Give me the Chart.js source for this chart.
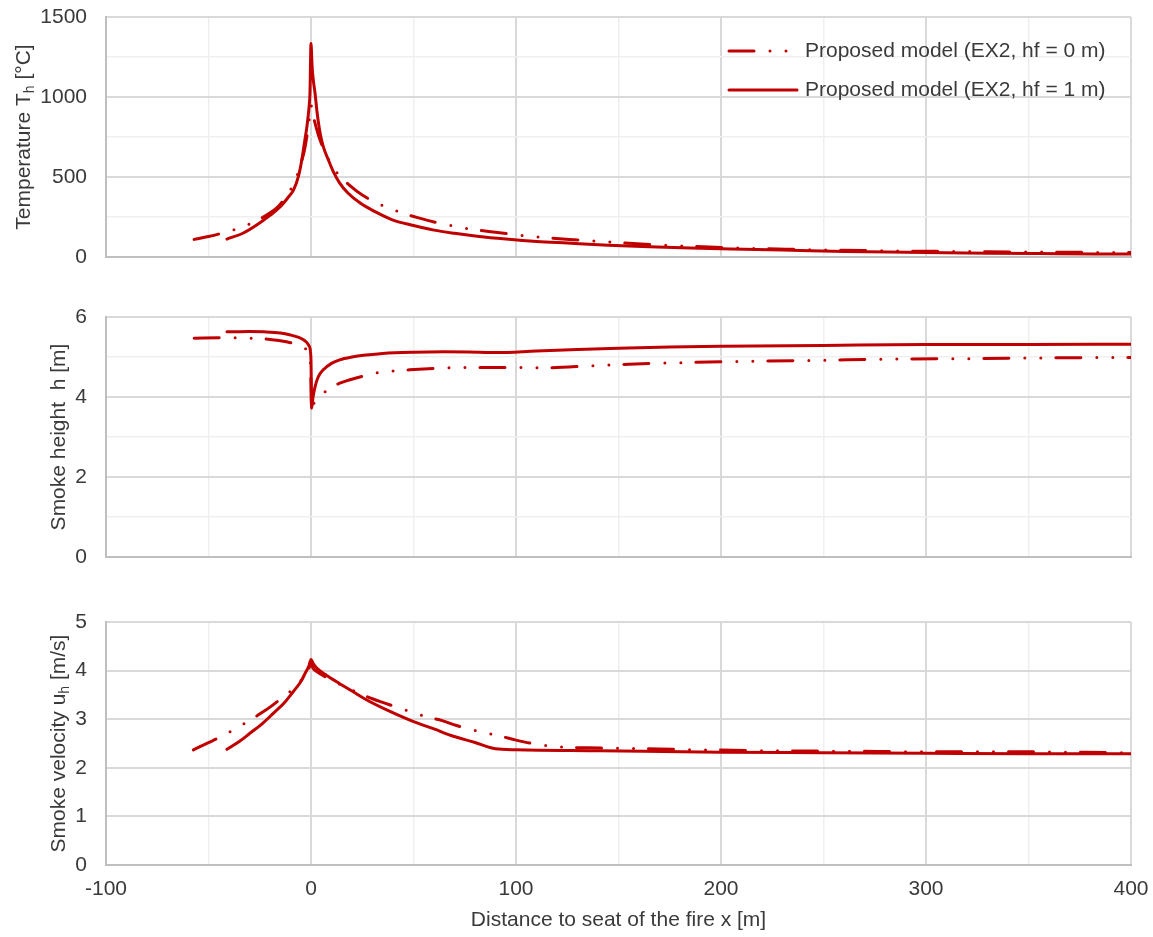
<!DOCTYPE html>
<html>
<head>
<meta charset="utf-8">
<script src="https://cdn.jsdelivr.net/npm/chart.js@4.4.1/dist/chart.umd.min.js"></script>
<style>
body { margin: 0; background: #fff; width: 1153px; height: 937px; position: relative; overflow: hidden; }
canvas { position: absolute; left: 0; }
#tempChart { top: 0; }
#heightChart { top: 280px; }
#velChart { top: 580px; }
</style>
</head>
<body>
<canvas id="tempChart" width="1153" height="280"></canvas>
<canvas id="heightChart" width="1153" height="300"></canvas>
<canvas id="velChart" width="1153" height="357"></canvas>
<script>
// data
const seriesLabels = ['Proposed model (EX2, hf = 0 m)', 'Proposed model (EX2, hf = 1 m)'];

const tempHf0X = [-57, -50, -43.6, -36, -28.5, -21.6, -16, -12, -8, -5, -3, -1.5, -0.5, 0, 0.5, 1.5, 3.6, 6, 9, 13.3, 19, 25, 31, 37, 45, 52, 60, 73, 81, 89, 103, 115, 126, 140, 163, 177, 200, 214, 235, 252, 270, 290, 310, 330, 365, 400];
const tempHf0 = [110, 128, 148, 177, 215, 262, 315, 381, 470, 580, 680, 800, 900, 950, 920, 860, 762, 680, 600, 517, 446, 387, 345, 310, 273, 246, 219, 185, 169, 156, 135, 121, 110, 98, 79, 71, 60, 54, 48, 44, 40, 37, 35, 33, 30, 28];
const tempHf1X = [-41, -33, -26.5, -20, -15, -11, -8.5, -6, -4.5, -3, -2, -1, -0.5, 0, 0.5, 1, 2, 3, 4.5, 6, 8.5, 11, 14, 18, 24, 31, 40, 50, 60, 70, 82, 95, 110, 125, 145, 165, 185, 205, 230, 260, 290, 330, 365, 400];
const tempHf1 = [112, 150, 200, 260, 314, 375, 419, 510, 606, 730, 814, 930, 1025, 1335, 1200, 1120, 1020, 900, 770, 690, 606, 530, 462, 400, 337, 285, 231, 197, 168, 148, 128, 112, 97, 87, 74, 64, 56, 50, 43, 35, 30, 24, 21, 18];

const heightHf0X = [-57, -43, -30, -20, -12, -6, -3, -1, -0.2, 0.3, 1.5, 3, 5.7, 8, 12, 19, 26, 33, 40, 48, 63, 78, 95, 114, 137, 155, 174, 212, 249, 287, 325, 362, 400];
const heightHf0 = [5.47, 5.48, 5.47, 5.44, 5.38, 5.3, 5.22, 5.1, 4.8, 3.65, 3.85, 3.95, 4.07, 4.18, 4.3, 4.43, 4.53, 4.61, 4.65, 4.68, 4.72, 4.74, 4.74, 4.73, 4.78, 4.82, 4.85, 4.89, 4.92, 4.95, 4.96, 4.98, 4.99];
const heightHf1X = [-41, -30, -23, -15, -10, -6, -3.7, -2, -1, -0.5, -0.2, 0, 0.3, 1, 2, 3.5, 6, 10, 14, 20, 27, 35, 50, 65, 82, 90, 110, 130, 150, 175, 200, 250, 300, 350, 400];
const heightHf1 = [5.63, 5.64, 5.63, 5.6, 5.55, 5.49, 5.43, 5.36, 5.28, 5.22, 5.1, 4.9, 3.72, 4.0, 4.26, 4.5, 4.68, 4.84, 4.93, 5.0, 5.05, 5.09, 5.12, 5.13, 5.12, 5.11, 5.15, 5.19, 5.22, 5.25, 5.27, 5.29, 5.31, 5.31, 5.32];

const velHf0X = [-57.4, -50, -44.4, -38, -31, -24.5, -19, -13.5, -7.5, -4, -1.3, 0, 1, 2.8, 8, 14, 21.5, 28.8, 36, 49, 56.4, 64, 71, 85, 92.5, 100, 108, 121.5, 135, 151.5, 190, 227, 264, 301, 338, 375, 400];
const velHf0 = [2.37, 2.52, 2.63, 2.78, 2.95, 3.12, 3.28, 3.46, 3.67, 3.85, 4.01, 4.15, 4.05, 3.98, 3.85, 3.72, 3.57, 3.44, 3.33, 3.15, 3.05, 2.97, 2.87, 2.72, 2.65, 2.57, 2.5, 2.43, 2.41, 2.4, 2.37, 2.35, 2.34, 2.33, 2.33, 2.32, 2.31];
const velHf1X = [-41, -35, -29.8, -24, -18.4, -13, -8.6, -5, -2.9, -1, 0, 1, 2.8, 7, 12.5, 20, 27, 38, 50, 60, 68, 80, 90, 100, 141, 200, 250, 300, 350, 400];
const velHf1 = [2.38, 2.54, 2.71, 2.9, 3.12, 3.34, 3.57, 3.77, 3.94, 4.1, 4.23, 4.15, 4.05, 3.92, 3.77, 3.58, 3.4, 3.17, 2.95, 2.8, 2.67, 2.52, 2.39, 2.37, 2.35, 2.32, 2.31, 2.3, 2.29, 2.29];

const RED = '#C00000';
const FONT = "'Liberation Sans', Arial, sans-serif";
const TEXT = '#3a3a3a';
const FS = 21;
const DASH_DOT = [25, 16, 0, 16, 0, 15];

function pts(xs, ys) {
    return xs.map((x, i) => ({ x: x, y: ys[i] }));
}

function series(label, xs, ys, dashed) {
    return {
        label: label,
        data: pts(xs, ys),
        borderColor: RED,
        backgroundColor: RED,
        borderWidth: 3,
        borderDash: dashed ? DASH_DOT : [],
        borderCapStyle: 'round',
        borderJoinStyle: 'round',
        pointRadius: 0,
        cubicInterpolationMode: 'monotone',
        order: dashed ? 1 : 0
    };
}

// rotated y title, with subscript pieces
const axisTitle = {
    id: 'axisTitle',
    afterDraw(chart, args, opts) {
        if (!opts || !opts.parts) return;
        const { ctx, chartArea } = chart;
        const cy = (chartArea.top + chartArea.bottom) / 2;
        const big = `${FS}px ${FONT}`, small = `14px ${FONT}`;
        ctx.save();
        ctx.translate(opts.x, cy);
        ctx.rotate(-Math.PI / 2);
        ctx.fillStyle = TEXT;
        ctx.textBaseline = 'alphabetic';
        ctx.textAlign = 'left';
        let total = 0;
        opts.parts.forEach(p => { ctx.font = p.sub ? small : big; total += ctx.measureText(p.text).width; });
        let x = -total / 2;
        opts.parts.forEach(p => {
            ctx.font = p.sub ? small : big;
            ctx.fillText(p.text, x, p.sub ? 12 : 7.5);
            x += ctx.measureText(p.text).width;
        });
        ctx.restore();
    }
};

// legend drawn inside the plot area (top right)
const insideLegend = {
    id: 'insideLegend',
    afterDraw(chart, args, opts) {
        if (!opts || !opts.rows) return;
        const ctx = chart.ctx;
        chart.data.datasets.forEach((ds, i) => {
            const y = opts.rows[i];
            ctx.save();
            ctx.strokeStyle = ds.borderColor;
            ctx.lineWidth = ds.borderWidth;
            ctx.lineCap = 'round';
            ctx.setLineDash(ds.borderDash);
            ctx.beginPath();
            ctx.moveTo(opts.x1, y);
            ctx.lineTo(opts.x2, y);
            ctx.stroke();
            ctx.setLineDash([]);
            ctx.fillStyle = TEXT;
            ctx.font = `${FS}px ${FONT}`;
            ctx.textBaseline = 'middle';
            ctx.textAlign = 'left';
            ctx.fillText(ds.label, opts.textX, y);
            ctx.restore();
        });
    }
};

function xScale(bottom) {
    return {
        type: 'linear', min: -100, max: 400,
        grid: {
            color: c => (c.tick && c.tick.value % 100 === 0) ? '#d9d9d9' : '#efefef',
            lineWidth: c => (c.tick && c.tick.value % 100 === 0) ? 2 : 1.5,
            drawTicks: false
        },
        border: { color: '#bfbfbf', width: 2 },
        ticks: {
            display: bottom, stepSize: 50, autoSkip: false, maxRotation: 0, padding: 12,
            color: TEXT, font: { family: FONT, size: FS },
            callback: v => v % 100 === 0 ? v : ''
        },
        title: {
            display: bottom, text: 'Distance to seat of the fire x [m]', color: TEXT,
            font: { family: FONT, size: FS }, padding: { top: 0, bottom: 4 }
        },
        afterFit: s => {
            s.height = bottom ? 72 : 23;
            s.paddingLeft = 0; s.paddingRight = 0;
        }
    };
}

function yScale(max, step, labelStep, majorStep) {
    const major = v => Math.abs(v / majorStep - Math.round(v / majorStep)) < 1e-6;
    return {
        type: 'linear', min: 0, max: max,
        grid: {
            color: c => (c.tick && major(c.tick.value)) ? '#d9d9d9' : '#efefef',
            lineWidth: c => (c.tick && major(c.tick.value)) ? 2 : 1.5,
            drawTicks: false
        },
        border: { color: '#bfbfbf', width: 2 },
        ticks: {
            stepSize: step, autoSkip: false, padding: 19,
            color: TEXT, font: { family: FONT, size: FS },
            callback: v => (Math.abs(v / labelStep - Math.round(v / labelStep)) < 1e-6) ? v : ''
        },
        afterFit: s => {
            s.width = 106;
            s.paddingTop = 0; s.paddingBottom = 0;
        }
    };
}

function makeChart(id, datasets, y, bottom, padTop, titleX, titleParts, legend) {
    const plugins = [axisTitle];
    if (legend) plugins.push(insideLegend);
    return new Chart(document.getElementById(id), {
        type: 'line',
        data: { datasets: datasets },
        options: {
            responsive: false, animation: false,
            layout: { padding: { top: padTop, right: 22, left: 0, bottom: 0 } },
            scales: { x: xScale(bottom), y: y },
            plugins: {
                legend: { display: false }, tooltip: { enabled: false },
                axisTitle: { x: titleX, parts: titleParts },
                insideLegend: legend || false
            }
        },
        plugins: plugins
    });
}

makeChart('tempChart', [
    series(seriesLabels[0], tempHf0X, tempHf0, true),
    series(seriesLabels[1], tempHf1X, tempHf1, false)
], yScale(1500, 250, 500, 500), false, 17, 22,
    [{ text: 'Temperature T' }, { text: 'h', sub: true }, { text: ' [°C]' }],
    { rows: [51, 90], x1: 729, x2: 797, textX: 805 });

makeChart('heightChart', [
    series(seriesLabels[0], heightHf0X, heightHf0, true),
    series(seriesLabels[1], heightHf1X, heightHf1, false)
], yScale(6, 1, 2, 2), false, 37, 57,
    [{ text: 'Smoke height  h [m]' }], null);

makeChart('velChart', [
    series(seriesLabels[0], velHf0X, velHf0, true),
    series(seriesLabels[1], velHf1X, velHf1, false)
], yScale(5, 1, 1, 1), true, 42, 57,
    [{ text: 'Smoke velocity u' }, { text: 'h', sub: true }, { text: ' [m/s]' }], null);
</script>
</body>
</html>
